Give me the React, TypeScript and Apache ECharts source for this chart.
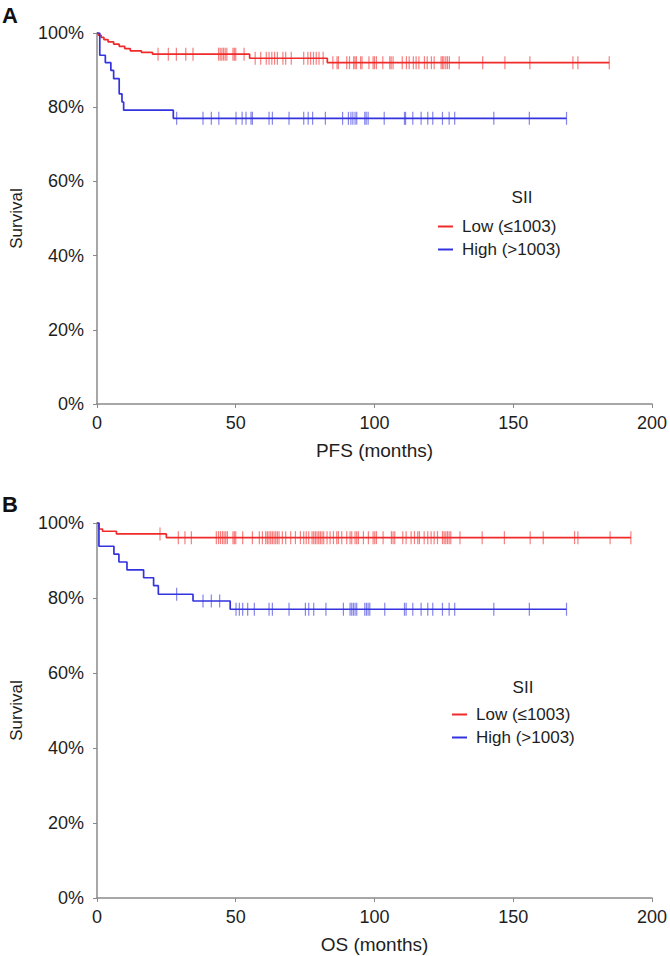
import React, { useEffect, useRef } from "react";
import * as echarts from "echarts";

const FONT = "'Liberation Sans', Arial, Helvetica, sans-serif";
const RED = "#f02a2a";
const BLUE = "#3333e0";
const AXIS = "#8a8a8a";
const TEXT = "#1e1e1e";

const xTicks = [0, 50, 100, 150, 200];
const yTicks = [0, 20, 40, 60, 80, 100];
const legendTitle = "SII";
const groupNames = ["Low (≤1003)", "High (>1003)"];
const panelLabels = ["A", "B"];
const xTitles = ["PFS (months)", "OS (months)"];
const yTitle = "Survival";

// ---- PFS ----
const pfsLowTimes = [0, 0.5, 1.5, 2.5, 4, 6, 8, 10, 12, 16, 20, 55, 83];
const pfsLowSurv = [100, 99.4, 98.8, 98.2, 97.6, 97.0, 96.4, 95.8, 95.2, 94.8, 94.3, 93.2, 92.0];
const pfsLowEnd = 184.6;
const pfsLowCensor = [22, 25.7, 28.6, 32, 34.6, 43.8, 44.4, 45, 45.6, 46.2, 46.8, 49, 49.5, 50, 53, 57, 59, 61, 62, 63, 64, 65, 67, 68, 70, 74.5, 76, 77, 78, 79, 80, 81.5, 85, 86.5, 87, 90, 91, 92.5, 93, 93.5, 95, 95.5, 98, 99.5, 100, 100.7, 103, 105.5, 106, 106.7, 110, 111.5, 112.5, 114, 115, 116, 118, 119, 120.5, 121.5, 124, 124.5, 125, 125.7, 126.3, 127, 130.5, 139, 147, 156, 171.5, 173.3, 184.6];

const pfsHighTimes = [0, 1, 3, 5, 6, 8, 9, 9.6, 27.5];
const pfsHighSurv = [100, 94.0, 92.0, 89.9, 87.7, 83.6, 81.4, 79.2, 77.0];
const pfsHighEnd = 169.2;
const pfsHighCensor = [28.7, 38.2, 41.2, 43.9, 50.1, 52.3, 53.7, 55.5, 56, 62, 63.2, 69.2, 74.5, 76.1, 77.7, 82.3, 88.5, 90.6, 91.5, 92.2, 93, 93.6, 96.5, 97, 97.7, 103.5, 110.8, 111.2, 113.8, 116.8, 119.2, 121, 124.5, 126.9, 128.9, 143, 155.8, 169.2];

// ---- OS ----
const osLowTimes = [0, 0.7, 2, 7, 25];
const osLowSurv = [100, 98.4, 97.8, 97.1, 96.1];
const osLowEnd = 192.4;
const osLowCensor = [22.7, 29.3, 31.7, 34, 43, 43.8, 44.5, 45.2, 45.8, 46.4, 47, 49, 49.5, 50, 52.5, 56, 58.5, 59.6, 60.8, 61.4, 62, 62.6, 63.2, 63.8, 64.4, 65, 65.6, 66.8, 68, 69.8, 71.5, 73.3, 74.5, 75.4, 76.3, 77.5, 78.1, 78.7, 79.3, 79.9, 80.5, 81.1, 81.7, 82.9, 84, 85.2, 86.4, 87, 88.2, 90, 91.2, 91.8, 93, 93.6, 94.2, 96, 97.8, 99.5, 100.1, 100.7, 103.1, 106.1, 106.7, 107.3, 110.2, 111.4, 113.2, 114.4, 115.6, 116.2, 117.9, 119.2, 120.4, 121.5, 122.7, 124.5, 125.1, 125.7, 126.3, 126.9, 127.5, 130.8, 138.8, 146.8, 156.1, 160.8, 172.1, 173.3, 184.9, 192.4];

const osHighTimes = [0, 0.7, 6.1, 7.9, 10.8, 16.8, 20.4, 22.1, 34.6, 48];
const osHighSurv = [100, 93.8, 91.7, 89.6, 87.5, 85.4, 83.3, 81.0, 79.2, 77.0];
const osHighEnd = 169.2;
const osHighCensor = [28.7, 38.2, 41.2, 44.2, 50.1, 51.3, 52.5, 54.3, 56.7, 62, 63.2, 69.2, 75.1, 76.3, 78.1, 82.5, 88.8, 91.2, 91.8, 92.4, 93, 93.6, 96.5, 97.1, 97.7, 98.3, 103.7, 110.8, 111.4, 113.8, 116.8, 119.2, 121, 124.5, 126.9, 128.9, 143, 155.8, 169.2];

function curve(times: number[], surv: number[], end: number) {
  const pts = times.map((t, i) => [t, surv[i]]);
  pts.push([end, surv[surv.length - 1]]);
  return pts;
}
function survAt(times: number[], surv: number[], t: number) {
  let s = surv[0];
  for (let i = 0; i < times.length; i++) if (times[i] <= t) s = surv[i];
  return s;
}
function censorPts(times: number[], surv: number[], cens: number[]) {
  return cens.map((t) => [t, survAt(times, surv, t)]);
}

const grids = [
  { left: 93, top: 33, width: 560, height: 371 },
  { left: 93, top: 523, width: 560, height: 375 },
];

export default function App() {
  const ref = useRef<HTMLDivElement>(null);
  useEffect(() => {
    if (!ref.current) return;
    const chart = echarts.init(ref.current, null, { renderer: "svg" });

    const xAxes = [0, 1].map((g) => ({
      type: "value",
      gridIndex: g,
      min: xTicks[0],
      max: xTicks[xTicks.length - 1],
      interval: 50,
      name: xTitles[g],
      nameLocation: "middle",
      nameGap: 37,
      nameTextStyle: { fontFamily: FONT, fontSize: 19, color: TEXT },
      axisLine: { show: true, lineStyle: { color: AXIS, width: 1.5 } },
      axisTick: { show: true, length: 4, lineStyle: { color: AXIS, width: 1 } },
      axisLabel: { fontFamily: FONT, fontSize: 18, color: TEXT, margin: 10 },
      splitLine: { show: false },
    }));
    const yAxes = [0, 1].map((g) => ({
      type: "value",
      gridIndex: g,
      min: yTicks[0],
      max: yTicks[yTicks.length - 1],
      interval: 20,
      name: yTitle,
      nameLocation: "middle",
      nameGap: 72,
      nameTextStyle: { fontFamily: FONT, fontSize: 17, color: TEXT },
      axisLine: { show: true, lineStyle: { color: AXIS, width: 1.5 } },
      axisTick: { show: true, length: 4, lineStyle: { color: AXIS, width: 1 } },
      axisLabel: { fontFamily: FONT, fontSize: 18, color: TEXT, margin: 13, formatter: "{value}%" },
      splitLine: { show: false },
    }));

    const sets = [
      [
        { name: groupNames[0], color: RED, t: pfsLowTimes, s: pfsLowSurv, e: pfsLowEnd, c: pfsLowCensor },
        { name: groupNames[1], color: BLUE, t: pfsHighTimes, s: pfsHighSurv, e: pfsHighEnd, c: pfsHighCensor },
      ],
      [
        { name: groupNames[0], color: RED, t: osLowTimes, s: osLowSurv, e: osLowEnd, c: osLowCensor },
        { name: groupNames[1], color: BLUE, t: osHighTimes, s: osHighSurv, e: osHighEnd, c: osHighCensor },
      ],
    ];
    const series: any[] = [];
    sets.forEach((grp, g) => {
      grp.forEach((d) => {
        series.push({
          type: "line",
          name: d.name,
          xAxisIndex: g,
          yAxisIndex: g,
          step: "end",
          showSymbol: false,
          symbol: "none",
          color: d.color,
          lineStyle: { color: d.color, width: 1.7 },
          data: curve(d.t, d.s, d.e),
          z: 3,
        });
        series.push({
          type: "scatter",
          name: d.name + " censored",
          xAxisIndex: g,
          yAxisIndex: g,
          symbol: "rect",
          symbolSize: [1.2, 13],
          itemStyle: { color: d.color, opacity: 0.6 },
          data: censorPts(d.t, d.s, d.c),
          z: 2,
        });
      });
    });

    const legendBase = {
      data: groupNames,
      orient: "vertical",
      icon: "rect",
      itemWidth: 15,
      itemHeight: 2,
      itemGap: 6,
      padding: 0,
      selectedMode: false,
      textStyle: { fontFamily: FONT, fontSize: 17, color: TEXT, lineHeight: 17, padding: [0, 0, 0, 4] },
    };

    chart.setOption({
      animation: false,
      backgroundColor: "#ffffff",
      grid: grids.map((g) => ({ ...g, containLabel: false })),
      xAxis: xAxes,
      yAxis: yAxes,
      legend: [
        { ...legendBase, left: 438, top: 218 },
        { ...legendBase, left: 452, top: 706 },
      ],
      graphic: [
        { type: "text", left: 2, top: 4, style: { text: panelLabels[0], font: `bold 22px ${FONT}`, fill: "#111" } },
        { type: "text", left: 2, top: 493, style: { text: panelLabels[1], font: `bold 22px ${FONT}`, fill: "#111" } },
        { type: "text", x: 522, y: 197, style: { text: legendTitle, font: `17px ${FONT}`, fill: TEXT, align: "center", verticalAlign: "middle" } },
        { type: "text", x: 523, y: 687, style: { text: legendTitle, font: `17px ${FONT}`, fill: TEXT, align: "center", verticalAlign: "middle" } },
      ],
      series,
    });
    return () => chart.dispose();
  }, []);
  return <div ref={ref} style={{ position: "absolute", left: 0, top: 0, width: 670, height: 956 }} />;
}
